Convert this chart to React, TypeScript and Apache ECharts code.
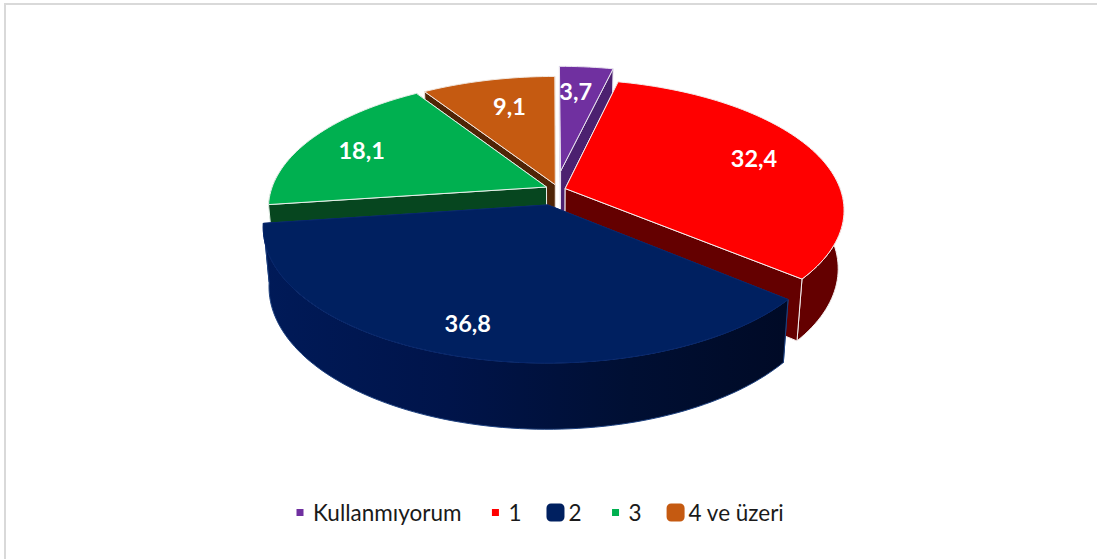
import React, { useEffect, useRef } from "react";
import * as echarts from "echarts";

const categories = ["Kullanmıyorum", "1", "2", "3", "4 ve üzeri"];
const values = [3.7, 32.4, 36.8, 18.1, 9.1];
const topColors = ["#7030a0", "#ff0000", "#002060", "#00b050", "#c55a11"];
const sideColors = ["#4c2170", "#640000", "#001a52", "#06461f", "#4f2406"];
const edgeColors = ["#e9e4ef", "#f4eeee", "#1f4280", "#e6efe9", "#f1e7df"];
const topEdgeColors = ["#e9e4ef", "#f4eeee", "#06256a", "#e6efe9", "#f1e7df"];
const drawOrder = [3, 4, 5, 2, 1];
const offsetU = [0.032, 0.048, -0.015, -0.02, 0.012];
const offsetV = [-0.12, 0.02, 0.147, 0.008, -0.01];
const labelRadius = [0.74, 0.76, 0.82, 0.77, 0.72];
const labelTurn = [-1.5, -1, 1.5, -1.5, 1.5];
const smallIcon = "path://M0 0L.01 0ZM5.5 5.5H12.5V12.5H5.5ZM18 18L17.99 18Z";
const legendIcons = [smallIcon, smallIcon, "roundRect", smallIcon, "roundRect"];

const CX = 552;
const CY = 186;
const A = 274;
const B = 126;
const K = 0.16;
const DEPTH = 57;
const SHRINK = 0.02;
const RAD = Math.PI / 180;
const WALL_FROM = 85;
const WALL_TO = 275;

function project(u: number, v: number, h: number): number[] {
  const w = 1 - K * v;
  const s = 1 - SHRINK * h;
  return [CX + (A * u * s) / w, CY + (B * v * s) / w + (DEPTH * h) / w];
}

const total = values.reduce((a, b) => a + b, 0);

function sliceAngles(i: number): number[] {
  const before = values.slice(0, i).reduce((a, b) => a + b, 0);
  return [(before / total) * 360, ((before + values[i]) / total) * 360];
}

function rimPoint(i: number, deg: number, h: number, r = 1): number[] {
  return project(
    offsetU[i] + r * Math.sin(deg * RAD),
    offsetV[i] - r * Math.cos(deg * RAD),
    h
  );
}

function arc(i: number, from: number, to: number, h: number): number[][] {
  const n = Math.max(8, Math.ceil(Math.abs(to - from) / 1.5));
  const pts: number[][] = [];
  for (let k = 0; k <= n; k++) pts.push(rimPoint(i, from + ((to - from) * k) / n, h));
  return pts;
}

function renderSlice(i: number) {
  const [a0, a1] = sliceAngles(i);
  const apexTop = rimPoint(i, 0, 0, 0);
  const apexBottom = rimPoint(i, 0, 1, 0);
  const wallFill =
    i === 2
      ? new echarts.graphic.LinearGradient(0, 0, 1, 0, [
          { offset: 0, color: "#001a58" },
          { offset: 0.35, color: "#00144a" },
          { offset: 0.7, color: "#000f33" },
          { offset: 1, color: "#000a26" },
        ])
      : sideColors[i];
  const face = (points: number[][], fill: any, stroke = edgeColors[i]) => ({
    type: "polygon",
    shape: { points },
    style: { fill, stroke, lineWidth: 1, lineJoin: "round" },
  });
  const startFace = face([apexTop, rimPoint(i, a0, 0), rimPoint(i, a0, 1), apexBottom], sideColors[i]);
  const endFace = face([apexTop, rimPoint(i, a1, 0), rimPoint(i, a1, 1), apexBottom], sideColors[i]);
  // A cut face looks toward the viewer when its outward normal points to the front of the disc.
  const startFront = -Math.cos((a0 - 90) * RAD) > 0.01;
  const endFront = -Math.cos((a1 + 90) * RAD) > 0.01;
  const wallA = Math.max(a0, WALL_FROM);
  const wallB = Math.min(a1, WALL_TO);
  const wall =
    wallB > wallA ? [face([...arc(i, wallA, wallB, 0), ...arc(i, wallB, wallA, 1)], wallFill)] : [];
  const mid = (a0 + a1) / 2 + labelTurn[i];
  const labelPos = rimPoint(i, mid, 0, labelRadius[i]);
  return {
    type: "group",
    children: [
      ...(startFront ? [] : [startFace]),
      ...(endFront ? [] : [endFace]),
      ...wall,
      ...(startFront ? [startFace] : []),
      ...(endFront ? [endFace] : []),
      face([apexTop, ...arc(i, a0, a1, 0)], topColors[i], topEdgeColors[i]),
      {
        type: "text",
        x: labelPos[0],
        y: labelPos[1],
        style: {
          text: String(values[i]).replace(".", ","),
          fill: "#ffffff",
          font: "bold 23.5px Lato",
          align: "center",
          verticalAlign: "middle",
        },
      },
    ],
  };
}

export default function App() {
  const ref = useRef<HTMLDivElement>(null);
  useEffect(() => {
    const chart = echarts.init(ref.current!, null, { renderer: "svg" });
    chart.setOption({
      animation: false,
      backgroundColor: "#ffffff",
      graphic: [
        {
          type: "polyline",
          silent: true,
          shape: { points: [[5, 559], [5, 4], [1097, 4]] },
          style: { fill: "none", stroke: "#d9d9d9", lineWidth: 2 },
        },
      ],
      legend: {
        left: 286,
        top: 496,
        itemWidth: 18,
        itemHeight: 18,
        itemGap: 25,
        textStyle: { fontFamily: "Lato", fontSize: 22.5, color: "#1a1a1a", padding: [0, 0, 0, -1] },
        data: categories.map((name, i) => ({ name, icon: legendIcons[i] })),
      },
      series: categories.map((name, i) => ({
        type: "custom",
        name,
        coordinateSystem: "none",
        z: drawOrder[i],
        itemStyle: { color: topColors[i] },
        data: [values[i]],
        renderItem: () => renderSlice(i),
      })),
    });
    return () => chart.dispose();
  }, []);
  return (
    <div
      ref={ref}
      style={{ position: "absolute", left: 0, top: 0, width: 1097, height: 559 }}
    />
  );
}
